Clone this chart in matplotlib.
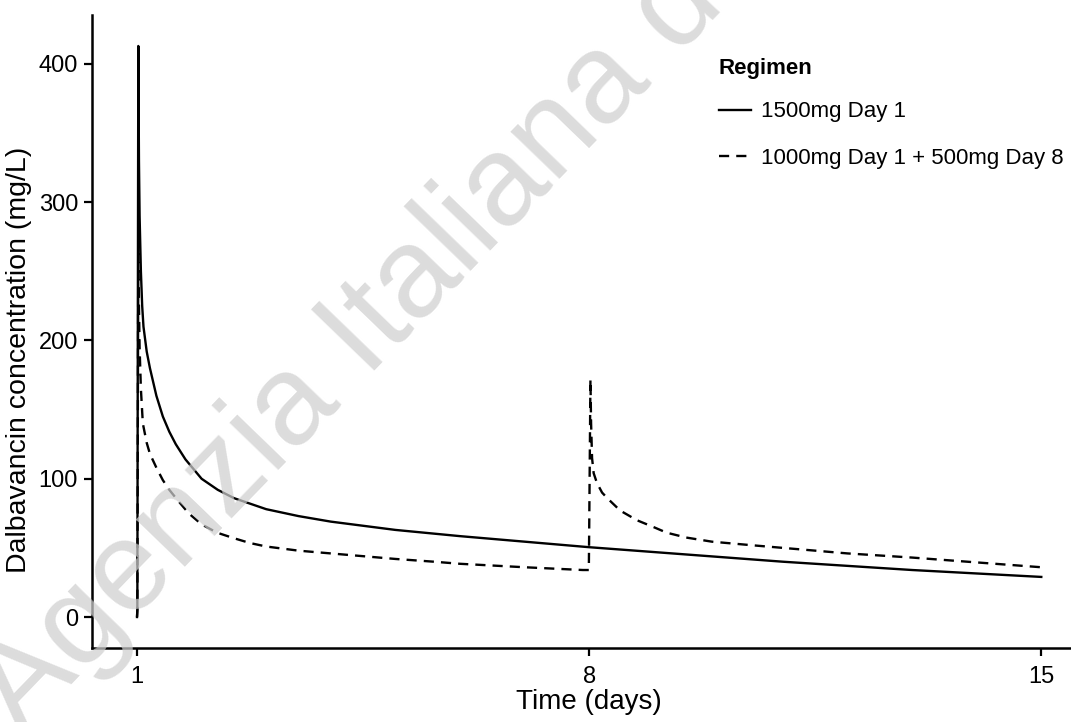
import matplotlib
matplotlib.use("Agg")
import matplotlib.pyplot as plt

plt.rcParams['font.family'] = ['Liberation Sans', 'DejaVu Sans']

# values
t_single = [1.0, 1.005, 1.02, 1.03, 1.04, 1.06, 1.08, 1.1, 1.15, 1.2, 1.3, 1.4, 1.5, 1.6,
            1.75, 2.0, 2.25, 2.5, 3.0, 3.5, 4.0, 5.0, 6.0, 7.0, 8.0, 9.0, 10.0, 11.0,
            12.0, 13.0, 14.0, 15.0]
c_single = [0, 5, 413, 330, 290, 250, 225, 210, 192, 180, 160, 145, 134, 125,
            114, 100, 92, 86, 78, 73, 69, 63, 58.5, 54.5, 50.5, 47, 43.5, 40,
            37, 34, 31.5, 29]

t_split = [1.0, 1.005, 1.02, 1.03, 1.04, 1.06, 1.09, 1.15, 1.2, 1.3, 1.4, 1.5, 1.62,
           1.8, 2.0, 2.24, 2.5, 2.75, 3.0, 3.5, 4.0, 5.0, 5.6, 6.0, 7.0, 7.9, 7.995,
           8.0, 8.02, 8.03, 8.045, 8.07, 8.12, 8.2, 8.28, 8.48, 8.74, 9.0, 9.2,
           9.5, 9.9, 10.5, 11.0, 12.0, 13.0, 14.0, 15.0]
c_split = [0, 5, 275, 225, 195, 165, 140, 126, 118, 108, 99, 92, 85,
           75, 67, 61, 57, 53.5, 51, 48, 46, 42, 40, 38.5, 36, 34, 34,
           60, 172, 140, 115, 104, 97, 90, 86, 77, 70, 65, 61,
           57.5, 54.5, 52, 50, 46, 43, 39.5, 36]

series_labels = ["1500mg Day 1", "1000mg Day 1 + 500mg Day 8"]
x_ticks = [1, 8, 15]
y_ticks = [0, 100, 200, 300, 400]

fig = plt.figure(figsize=(10.71, 7.22), dpi=100)
ax = fig.add_axes([0.0859, 0.1025, 0.9141, 0.8767])

ax.plot(t_single, c_single, color='black', lw=1.7, label=series_labels[0])
ax.plot(t_split, c_split, color='black', lw=1.7, dashes=(4.3, 3.0), label=series_labels[1])

ax.set_xlim(0.303, 15.46)
ax.set_ylim(-22.4, 435.4)
ax.set_xticks(x_ticks)
ax.set_yticks(y_ticks)
ax.tick_params(labelsize=17, length=6, width=1.6, colors='black', pad=4)
ax.tick_params(axis='x', pad=7)
for s in ['top', 'right']:
    ax.spines[s].set_visible(False)
for s in ['left', 'bottom']:
    ax.spines[s].set_linewidth(1.8)

ax.set_xlabel("Time (days)", fontsize=20)
ax.xaxis.set_label_coords(0.508, -0.064)
ax.set_ylabel("Dalbavancin concentration (mg/L)", fontsize=20.5)
ax.yaxis.set_label_coords(-0.061, 0.455)

leg = ax.legend(title="Regimen", loc='upper left', bbox_to_anchor=(0.64, 0.932),
                frameon=False, fontsize=16, title_fontproperties={'weight': 'bold', 'size': 16},
                alignment='left', handlelength=1.45, handletextpad=0.45, labelspacing=1.15,
                borderpad=0, borderaxespad=0)
leg._legend_box.sep = 16

# watermark
fig.text(0.02, -0.02, "Agenzia Italiana del Farmaco", fontsize=92,
         color='#cfcfcf', alpha=0.72,
         rotation=46, rotation_mode='anchor', ha='left', va='baseline', zorder=10)

fig.savefig("out.png", dpi=100)
